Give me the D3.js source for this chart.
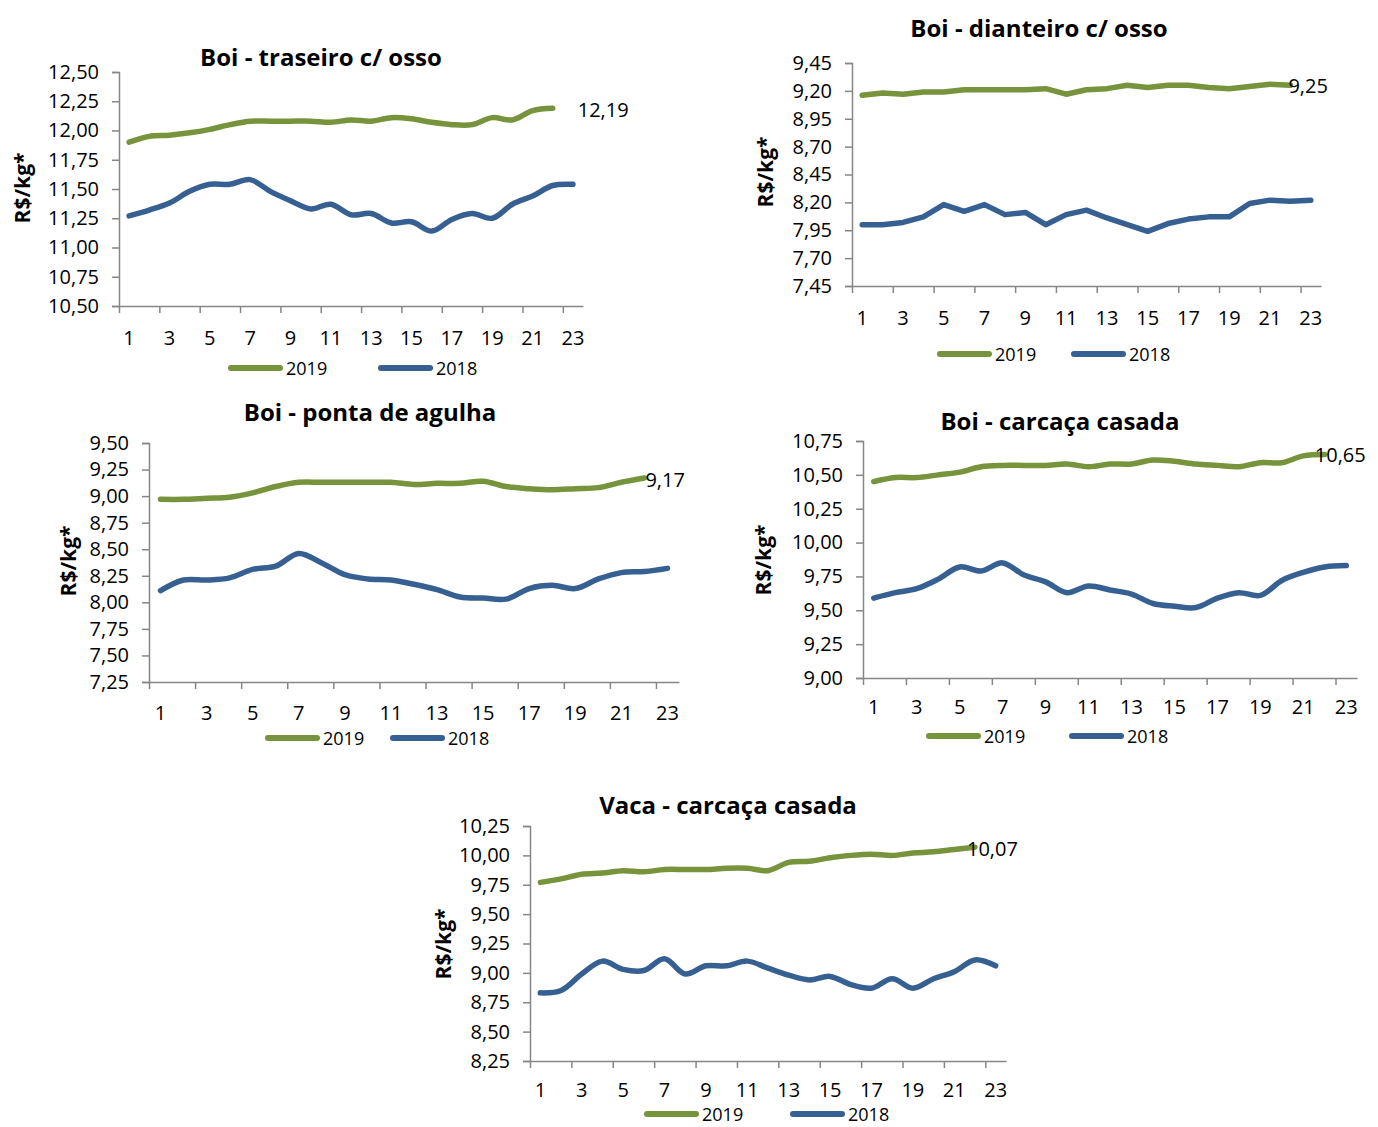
<!DOCTYPE html>
<html>
<head>
<meta charset="utf-8">
<script src="https://cdn.jsdelivr.net/npm/d3@7/dist/d3.min.js"></script>
<style>
  html, body { margin: 0; padding: 0; background: #fff; }
  svg { display: block; font-family: "Open Sans", "Noto Sans", sans-serif; }
</style>
</head>
<body>
<svg id="chart" width="1378" height="1127"></svg>
<script>
// ---------- DATA ----------
const categories = d3.range(1, 24);
const xTickLabels = [1, 3, 5, 7, 9, 11, 13, 15, 17, 19, 21, 23];
const seriesNames = ["2019", "2018"];

const titles = ["Boi - traseiro c/ osso", "Boi - dianteiro c/ osso", "Boi - ponta de agulha", "Boi - carcaça casada", "Vaca - carcaça casada"];
const yLabel = "R$/kg*";

const traseiro2019 = [11.90, 11.95, 11.96, 11.98, 12.01, 12.05, 12.08, 12.08, 12.08, 12.08, 12.07, 12.09, 12.08, 12.11, 12.10, 12.07, 12.05, 12.05, 12.11, 12.09, 12.17, 12.19];
const traseiro2018 = [11.27, 11.32, 11.38, 11.48, 11.54, 11.54, 11.58, 11.48, 11.40, 11.33, 11.37, 11.28, 11.29, 11.21, 11.22, 11.14, 11.24, 11.29, 11.25, 11.37, 11.44, 11.53, 11.54];
const traseiroTicks = [10.50, 10.75, 11.00, 11.25, 11.50, 11.75, 12.00, 12.25, 12.50];

const dianteiro2019 = [9.16, 9.18, 9.17, 9.19, 9.19, 9.21, 9.21, 9.21, 9.21, 9.22, 9.17, 9.21, 9.22, 9.25, 9.23, 9.25, 9.25, 9.23, 9.22, 9.24, 9.26, 9.25];
const dianteiro2018 = [8.00, 8.00, 8.02, 8.07, 8.18, 8.12, 8.18, 8.09, 8.11, 8.00, 8.09, 8.13, 8.06, 8.00, 7.94, 8.01, 8.05, 8.07, 8.07, 8.19, 8.22, 8.21, 8.22];
const dianteiroTicks = [7.45, 7.70, 7.95, 8.20, 8.45, 8.70, 8.95, 9.20, 9.45];

const agulha2019 = [8.97, 8.97, 8.98, 8.99, 9.03, 9.09, 9.13, 9.13, 9.13, 9.13, 9.13, 9.11, 9.12, 9.12, 9.14, 9.09, 9.07, 9.06, 9.07, 9.08, 9.13, 9.17];
const agulha2018 = [8.11, 8.21, 8.21, 8.23, 8.31, 8.34, 8.46, 8.37, 8.26, 8.22, 8.21, 8.17, 8.12, 8.05, 8.04, 8.03, 8.13, 8.16, 8.13, 8.22, 8.28, 8.29, 8.32];
const agulhaTicks = [7.25, 7.50, 7.75, 8.00, 8.25, 8.50, 8.75, 9.00, 9.25, 9.50];

const boiCarcaca2019 = [10.45, 10.48, 10.48, 10.50, 10.52, 10.56, 10.57, 10.57, 10.57, 10.58, 10.56, 10.58, 10.58, 10.61, 10.60, 10.58, 10.57, 10.56, 10.59, 10.59, 10.64, 10.65];
const boiCarcaca2018 = [9.59, 9.63, 9.66, 9.73, 9.82, 9.79, 9.85, 9.76, 9.71, 9.63, 9.68, 9.65, 9.62, 9.55, 9.53, 9.52, 9.59, 9.63, 9.61, 9.72, 9.78, 9.82, 9.83];
const boiCarcacaTicks = [9.00, 9.25, 9.50, 9.75, 10.00, 10.25, 10.50, 10.75];

const vaca2019 = [9.77, 9.80, 9.84, 9.85, 9.87, 9.86, 9.88, 9.88, 9.88, 9.89, 9.89, 9.87, 9.94, 9.95, 9.98, 10.00, 10.01, 10.00, 10.02, 10.03, 10.05, 10.07];
const vaca2018 = [8.83, 8.85, 8.99, 9.10, 9.03, 9.02, 9.12, 8.99, 9.06, 9.06, 9.10, 9.04, 8.98, 8.94, 8.97, 8.90, 8.87, 8.95, 8.87, 8.95, 9.01, 9.11, 9.06];
const vacaTicks = [8.25, 8.50, 8.75, 9.00, 9.25, 9.50, 9.75, 10.00, 10.25];

const endLabels = ["12,19", "9,25", "9,17", "10,65", "10,07"];

// ---------- LAYOUT / STYLE ----------
const colors = { "2019": "#77933C", "2018": "#376092" };
const axisColor = "#868686";

const panels = [
  { title: titles[0], s2019: traseiro2019, s2018: traseiro2018, ticks: traseiroTicks, end: endLabels[0],
    x0: 119, x1: 583, yTop: 72, yBot: 306, titleX: 321, titleY: 56, ylX: 22, ylY: 188,
    xLabY: 337, leg: [228, 378], legY: 368, endDx: 25, endDy: 1, curve: "smooth" },
  { title: titles[1], s2019: dianteiro2019, s2018: dianteiro2018, ticks: dianteiroTicks, end: endLabels[1],
    x0: 852, x1: 1321, yTop: 63, yBot: 286, titleX: 1039, titleY: 27, ylX: 765, ylY: 172,
    xLabY: 317, leg: [937, 1071], legY: 354, endDx: -2, endDy: 0, curve: "linear" },
  { title: titles[2], s2019: agulha2019, s2018: agulha2018, ticks: agulhaTicks, end: endLabels[2],
    x0: 149, x1: 679, yTop: 443, yBot: 682, titleX: 370, titleY: 411, ylX: 68, ylY: 561,
    xLabY: 712, leg: [265, 390], legY: 738, endDx: 1, endDy: 1, curve: "smooth" },
  { title: titles[3], s2019: boiCarcaca2019, s2018: boiCarcaca2018, ticks: boiCarcacaTicks, end: endLabels[3],
    x0: 863, x1: 1357, yTop: 441, yBot: 678, titleX: 1060, titleY: 420, ylX: 763, ylY: 560,
    xLabY: 706, leg: [926, 1069], legY: 736, endDx: -10, endDy: 0, curve: "smooth" },
  { title: titles[4], s2019: vaca2019, s2018: vaca2018, ticks: vacaTicks, end: endLabels[4],
    x0: 530, x1: 1006, yTop: 826, yBot: 1061, titleX: 728, titleY: 804, ylX: 443, ylY: 944,
    xLabY: 1089, leg: [644, 790], legY: 1114, endDx: -8, endDy: 1, curve: "smooth" }
];

const svg = d3.select("#chart");
const fmt = v => d3.format(".2f")(v).replace(".", ",");

panels.forEach(p => {
  const g = svg.append("g");
  const x = d3.scaleLinear().domain([0.5, 23.5]).range([p.x0, p.x1]);
  const y = d3.scaleLinear().domain(d3.extent(p.ticks)).range([p.yBot, p.yTop]);

  // y axis
  const ya = g.append("g").attr("transform", `translate(${p.x0},0)`)
    .call(d3.axisLeft(y).tickValues(p.ticks).tickFormat(fmt).tickSize(7).tickPadding(13));
  ya.select(".domain").attr("stroke", axisColor).attr("stroke-width", 1.5);
  ya.selectAll(".tick line").attr("stroke", axisColor).attr("stroke-width", 1.5);
  ya.selectAll(".tick text").attr("font-size", 20).attr("fill", "#000")
    .attr("font-family", "Open Sans");

  // x axis: tick marks at category boundaries
  const boundaries = d3.range(0.5, 24, 2);
  const xa = g.append("g").attr("transform", `translate(0,${p.yBot})`)
    .call(d3.axisBottom(x).tickValues(boundaries).tickFormat("").tickSize(7).tickSizeOuter(0));
  xa.select(".domain").attr("stroke", axisColor).attr("stroke-width", 1.5);
  xa.selectAll(".tick line").attr("stroke", axisColor).attr("stroke-width", 1.5);

  // x labels
  g.append("g").selectAll("text").data(xTickLabels).join("text")
    .attr("x", d => x(d)).attr("y", p.xLabY)
    .attr("text-anchor", "middle").attr("dominant-baseline", "central")
    .attr("font-size", 20).text(d => d);

  // lines
  const curve = p.curve === "smooth" ? d3.curveCatmullRom.alpha(0.5) : d3.curveLinear;
  const line = d3.line().x((d, i) => x(categories[i])).y(d => y(d)).curve(curve);
  [["2018", p.s2018], ["2019", p.s2019]].forEach(([name, vals]) => {
    g.append("path").datum(vals).attr("d", line)
      .attr("fill", "none").attr("stroke", colors[name]).attr("stroke-width", 5.5)
      .attr("stroke-linejoin", "round").attr("stroke-linecap", "round");
  });

  // end label
  const last = p.s2019.length - 1;
  g.append("text").attr("x", x(categories[last]) + p.endDx).attr("y", y(p.s2019[last]) + p.endDy)
    .attr("dominant-baseline", "central").attr("font-size", 20).text(p.end);

  // title
  g.append("text").attr("x", p.titleX).attr("y", p.titleY)
    .attr("text-anchor", "middle").attr("dominant-baseline", "central")
    .attr("font-size", 24).attr("font-weight", "bold").text(p.title);

  // y label
  g.append("text").attr("transform", `translate(${p.ylX},${p.ylY}) rotate(-90)`)
    .attr("text-anchor", "middle").attr("dominant-baseline", "central")
    .attr("font-size", 21).attr("font-weight", "bold").text(yLabel);

  // legend
  seriesNames.forEach((name, i) => {
    const lx = p.leg[i];
    g.append("line").attr("x1", lx + 3).attr("x2", lx + 52).attr("y1", p.legY).attr("y2", p.legY)
      .attr("stroke", colors[name]).attr("stroke-width", 6).attr("stroke-linecap", "round");
    g.append("text").attr("x", lx + 58).attr("y", p.legY).attr("dominant-baseline", "central")
      .attr("font-size", 18).text(name);
  });
});
</script>
</body>
</html>
